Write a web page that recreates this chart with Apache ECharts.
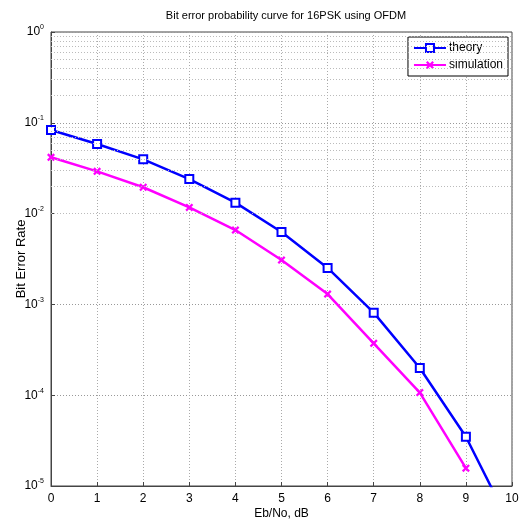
<!DOCTYPE html>
<html><head><meta charset="utf-8">
<script src="https://cdn.jsdelivr.net/npm/echarts@6/dist/echarts.min.js"></script>
<style>html,body{margin:0;padding:0;background:#fff}#c{width:520px;height:521px}</style>
</head><body><div id="c"></div>
<script>
const ebno = [0,1,2,3,4,5,6,7,8,9,10];
const theory = [0.0833,0.0584,0.0396,0.0240,0.0132,0.00627,0.00252,0.000811,0.000199,0.0000349,0.0000034];
const simEbno = [0,1,2,3,4,5,6,7,8,9];
const simulation = [0.0417,0.0292,0.0195,0.0117,0.00659,0.00308,0.00130,0.000373,0.000107,0.0000157];
const xTicks = [0,1,2,3,4,5,6,7,8,9,10];
const decades = [-5,-4,-3,-2,-1];
const minorMult = [2,3,4,5,6,7,8,9];

const minorLines = [];
decades.forEach(d => minorMult.forEach(m => minorLines.push({yAxis: m * Math.pow(10, d)})));

const chart = echarts.init(document.getElementById('c'), null, {renderer:'canvas'});
const font = 'Liberation Sans, Arial, sans-serif';
chart.setOption({
  animation:false,
  backgroundColor:'#fff',
  title:{text:'Bit error probability curve for 16PSK using OFDM', left:281, textAlign:'center', top:5,
    textStyle:{fontFamily:font, fontSize:11, fontWeight:'normal', color:'#000'}},
  grid:{left:51, right:8, top:32, bottom:35, outerBoundsMode:'none', containLabel:false,
    show:true, borderColor:'#444', borderWidth:1, backgroundColor:'transparent'},
  legend:{orient:'vertical', right:12, top:37, data:['theory','simulation'],
    backgroundColor:'#fff', borderColor:'#000', borderWidth:1, padding:[5,5,5,5],
    itemWidth:32, itemHeight:10, itemGap:5,
    textStyle:{fontFamily:font, fontSize:12, color:'#000', padding:[0,0,0,-2]}},
  xAxis:{type:'value', min:0, max:10, interval:1,
    name:'Eb/No, dB', nameLocation:'middle', nameGap:22, nameMoveOverlap:false,
    nameTextStyle:{fontFamily:font, fontSize:12, color:'#000'},
    axisLine:{show:true, lineStyle:{color:'#444'}},
    axisTick:{inside:true, length:4, lineStyle:{color:'#444'}},
    axisLabel:{fontFamily:font, fontSize:12, color:'#000', margin:7,
      formatter: v => xTicks.indexOf(v) >= 0 ? String(v) : ''},
    splitLine:{show:true, lineStyle:{color:'#aaa', type:[1,2], width:1}}},
  yAxis:{type:'log', logBase:10, min:1e-5, max:1,
    name:'Bit Error Rate', nameLocation:'middle', nameGap:23, nameMoveOverlap:false,
    nameTextStyle:{fontFamily:font, fontSize:13, color:'#000'},
    axisLine:{show:true, lineStyle:{color:'#444'}},
    axisTick:{inside:true, length:4, lineStyle:{color:'#444'}},
    axisLabel:{margin:7, color:'#000',
      formatter: v => '{b|10}{s|' + Math.round(Math.log10(v)) + '}',
      rich:{b:{fontFamily:font, fontSize:12, color:'#000'},
            s:{fontFamily:font, fontSize:7, color:'#000', padding:[0,0,9,0]}}},
    splitLine:{show:true, lineStyle:{color:'#999', type:[1,2], width:1}}},
  series:[
    {name:'theory', type:'line', data: ebno.map((x,i)=>[x, theory[i]]),
      symbol:'emptyRect', symbolSize:8, showAllSymbol:true,
      lineStyle:{color:'#0000ff', width:2.5},
      itemStyle:{color:'#0000ff', borderWidth:2},
      z:3,
      markLine:{silent:true, symbol:['none','none'], label:{show:false}, animation:false,
        lineStyle:{color:'#bbb', type:[1,2], width:1}, emphasis:{disabled:true},
        data: minorLines}},
    {name:'simulation', type:'line', data: simEbno.map((x,i)=>[x, simulation[i]]),
      symbol:'path://M2,0 L5,3 L8,0 L10,2 L7,5 L10,8 L8,10 L5,7 L2,10 L0,8 L3,5 L0,2 Z',
      symbolSize:8, lineStyle:{color:'#ff00ff', width:2.5},
      itemStyle:{color:'#ff00ff'}, z:4}
  ]
});
</script></body></html>
